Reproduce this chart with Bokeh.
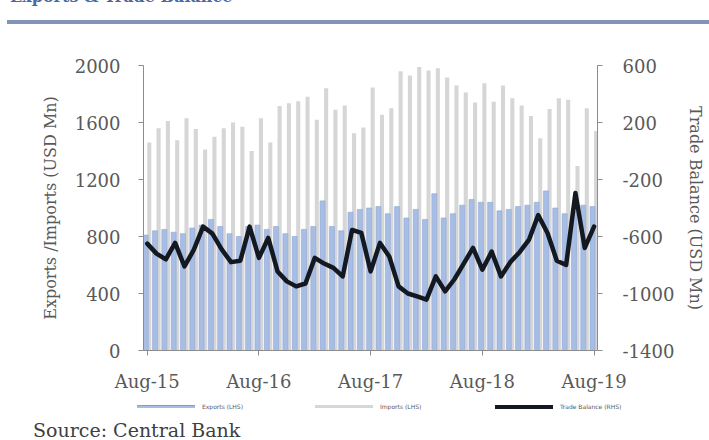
from bokeh.plotting import figure
from bokeh.models import Range1d, LinearAxis, FixedTicker, Div, ColumnDataSource
from bokeh.layouts import column
from bokeh.transform import dodge
from bokeh.embed import file_html
from bokeh.resources import INLINE

# Monthly data, Aug-15 .. Aug-19 (49 months), USD Mn
month_index = list(range(49))
tick_index = [0, 12, 24, 36, 48]
tick_labels = ["Aug-15", "Aug-16", "Aug-17", "Aug-18", "Aug-19"]

exports = [810, 840, 850, 830, 820, 860, 880, 920, 870, 820, 800, 870, 880,
           850, 870, 820, 800, 850, 870, 1050, 870, 840, 970, 990, 1000,
           1010, 960, 1010, 930, 990, 920, 1100, 930, 960, 1020, 1060, 1040,
           1040, 980, 990, 1010, 1020, 1040, 1120, 1000, 960, 1000, 1020, 1010]

imports = [1460, 1560, 1610, 1475, 1630, 1555, 1410, 1500, 1560, 1600, 1570,
           1400, 1630, 1460, 1715, 1735, 1750, 1780, 1620, 1840, 1690, 1720,
           1525, 1565, 1845, 1655, 1700, 1960, 1930, 1990, 1965, 1980, 1915,
           1860, 1810, 1740, 1875, 1745, 1860, 1770, 1720, 1645, 1490, 1695,
           1770, 1760, 1295, 1700, 1540]

trade_balance = [-650, -720, -760, -645, -810, -694, -531, -580, -690, -780,
                 -770, -531, -750, -610, -845, -915, -950, -930, -750, -790,
                 -820, -880, -554, -575, -845, -645, -740, -950, -1000, -1020,
                 -1043, -880, -985, -900, -790, -680, -833, -706, -880, -780,
                 -710, -624, -450, -575, -770, -800, -295, -680, -531]

left_ticks = [0, 400, 800, 1200, 1600, 2000]
right_ticks = [-1400, -1000, -600, -200, 200, 600]
right_tick_labels = ["-1400", "-1000", "-600", "-200", "200", "600"]

legend_labels = ["Exports (LHS)", "Imports (LHS)", "Trade Balance (RHS)"]
EXP_COLOR = "#a7bde4"
IMP_COLOR = "#d6d6d6"
TB_COLOR = "#141820"

src = ColumnDataSource(dict(x=month_index, exp=exports, imp=imports, tb=trade_balance))

SERIF = "DejaVu Serif"
TXT = "#595959"
AX = "#8c8c8c"

p = figure(width=709, height=373, output_backend="svg", toolbar_location=None,
           x_range=Range1d(-0.4, 48.37), y_range=Range1d(0, 2000),
           min_border_left=143, min_border_right=112, min_border_top=40,
           min_border_bottom=48, margin=(0, 0, 0, 0))
p.extra_y_ranges = {"tb": Range1d(-1400, 600)}
p.xgrid.visible = False
p.ygrid.visible = False
p.outline_line_color = None
p.background_fill_color = "white"

r_imp = p.vbar(x=dodge("x", 0.22, range=p.x_range), top="imp", width=0.44,
               source=src, fill_color=IMP_COLOR, line_color=None)
r_exp = p.vbar(x=dodge("x", -0.16, range=p.x_range), top="exp", width=0.54,
               source=src, fill_color=EXP_COLOR, line_color="#8ea8d8",
               line_width=0.6)
r_tb = p.line(x="x", y="tb", source=src, y_range_name="tb", line_color=TB_COLOR,
              line_width=4.5, line_join="round", line_cap="round")

# Left axis
ya = p.yaxis[0]
ya.ticker = FixedTicker(ticks=left_ticks)
ya.axis_label = "Exports /Imports (USD Mn)"
# Right axis
ra = LinearAxis(y_range_name="tb", ticker=FixedTicker(ticks=right_ticks),
                axis_label="Trade Balance (USD Mn)")
ra.major_label_overrides = {t: l for t, l in zip(right_ticks, right_tick_labels)}
p.add_layout(ra, "right")

for ax in (ya, ra):
    ax.major_label_text_font = SERIF
    ax.major_label_text_font_size = "18px"
    ax.major_label_text_color = TXT
    ax.axis_label_text_font = SERIF
    ax.axis_label_text_font_size = "16px"
    ax.axis_label_text_font_style = "normal"
    ax.axis_label_text_color = TXT
    ax.axis_line_color = AX
    ax.major_tick_line_color = AX
    ax.major_tick_out = 5
    ax.major_tick_in = 0
    ax.minor_tick_line_color = None
ya.major_label_standoff = 18
ya.axis_label_standoff = 12
ra.major_label_standoff = 20
ra.axis_label_standoff = 9

xa = p.xaxis[0]
xa.ticker = FixedTicker(ticks=tick_index)
xa.major_label_overrides = {t: l for t, l in zip(tick_index, tick_labels)}
xa.major_label_text_font = SERIF
xa.major_label_text_font_size = "18px"
xa.major_label_text_color = TXT
xa.axis_line_color = AX
xa.major_tick_line_color = AX
xa.major_tick_out = 5
xa.major_tick_in = 0
xa.minor_tick_line_color = None
xa.major_label_standoff = 15

title = Div(text=(
    '<div style="position:relative;width:709px;height:25px;">'
    '<div style="position:absolute;left:10px;top:-14px;font-family:\'DejaVu Serif\';'
    'font-weight:bold;font-size:16px;color:#4a68a0;white-space:nowrap;">'
    'Exports &amp; Trade Balance</div>'
    '<div style="position:absolute;left:7px;top:20px;width:702px;height:4px;'
    'background:#8194b8;"></div></div>'), width=709, height=25, margin=(0, 0, 0, 0))

# HTML legend below the plot
item_left = [137, 315, 495]
item_style = [("background:%s;height:3px;border-top:1px solid #7f9fd4;" % EXP_COLOR),
              ("background:%s;height:3px;" % IMP_COLOR),
              ("background:%s;height:4px;" % TB_COLOR)]
parts = []
for lx, lab, st in zip(item_left, legend_labels, item_style):
    parts.append('<div style="position:absolute;left:%dpx;top:7px;width:58px;%s"></div>'
                 % (lx, st))
    parts.append('<div style="position:absolute;left:%dpx;top:5px;font-family:\'DejaVu Sans\';'
                 'font-size:6px;line-height:7px;color:%s;white-space:nowrap;">%s</div>'
                 % (lx + 65, TXT, lab))
legend_div = Div(text='<div style="position:relative;width:709px;height:20px;">'
                 + "".join(parts) + '</div>', width=709, height=20, margin=(0, 0, 0, 0))

source = Div(text=(
    '<div style="padding-left:33px;padding-top:4px;font-family:\'DejaVu Serif\';'
    'font-size:19px;line-height:16px;color:#404040;white-space:nowrap;">'
    'Source: Central Bank</div>'),
    width=709, height=22, margin=(0, 0, 0, 0))

layout = column(title, p, legend_div, source, spacing=0, margin=(0, 0, 0, 0))

open("out.html", "w").write(file_html(layout, INLINE))
